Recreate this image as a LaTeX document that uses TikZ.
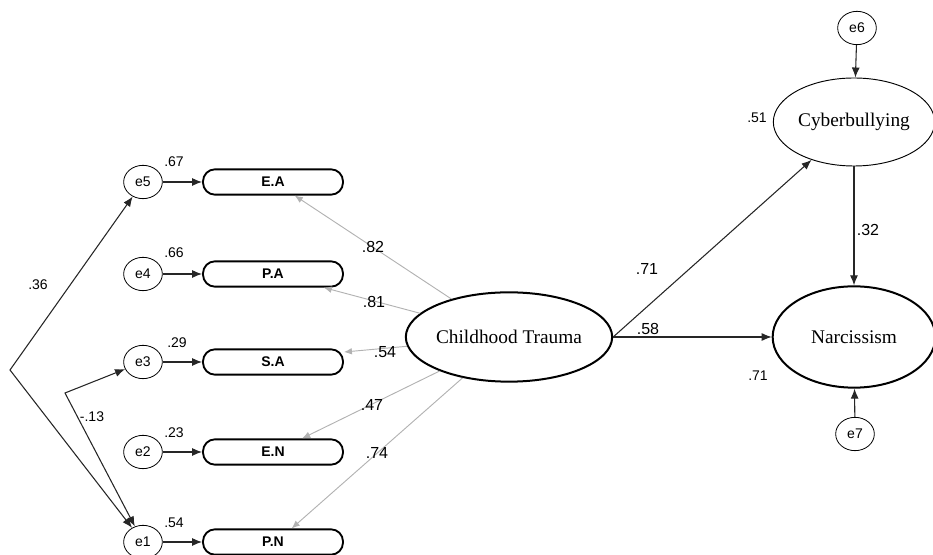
\documentclass[tikz,border=0pt]{standalone}
\usepackage{fontspec}
\setmainfont{Liberation Serif}
\setsansfont{Liberation Sans}
\usetikzlibrary{arrows.meta, shapes.geometric}
\tikzset{
    err/.style={draw, ellipse, line width=0.6pt, minimum width=29pt, minimum height=25pt, inner sep=0pt, font=\sffamily\fontsize{10.5}{11}\selectfont},
    ind/.style={draw, rectangle, rounded corners=9pt, line width=1.4pt, minimum width=105pt, minimum height=19pt, inner sep=0pt, font=\sffamily\bfseries\fontsize{10.5}{11}\selectfont},
    latent/.style={draw, ellipse, inner sep=0pt, font=\fontsize{14.5}{15}\selectfont},
    path/.style={-{Latex[length=7.5pt, width=6pt]}, line width=0.8pt, black!85},
    load/.style={-{Latex[length=6pt, width=5pt]}, line width=0.7pt, black!30},
    cov/.style={{Latex[length=7.5pt, width=6pt]}-{Latex[length=7.5pt, width=6pt]}, line width=0.8pt, black!85},
    lab/.style={font=\sffamily\fontsize{10.5}{11}\selectfont},
    biglab/.style={font=\sffamily\fontsize{12}{13}\selectfont}
}
\begin{document}
\begin{tikzpicture}[x=0.75pt, y=-0.75pt]
          \useasboundingbox (0,0) rectangle (933,555);
          % indicators and their errors
          \node [err] (e5) at (143,182) {e5};
          \node [err] (e4) at (143,274) {e4};
          \node [err] (e3) at (143,362) {e3};
          \node [err] (e2) at (143,452) {e2};
          \node [err] (e1) at (143,542) {e1};
          \node [ind] (ea) at (273,182) {E.A};
          \node [ind] (pa) at (273,274) {P.A};
          \node [ind] (sa) at (273,362) {S.A};
          \node [ind] (en) at (273,452) {E.N};
          \node [ind] (pn) at (273,542) {P.N};
          \foreach \e/\b in {e5/ea, e4/pa, e3/sa, e2/en, e1/pn}
            \draw [path] (\e) -- (\b);
          \node [lab] at (174,162) {.67};
          \node [lab] at (174,253) {.66};
          \node [lab] at (177,343) {.29};
          \node [lab] at (174,433) {.23};
          \node [lab] at (174,523) {.54};
          % covariances
          \coordinate (c1) at (10,370);
          \coordinate (c2) at (65,393);
          \draw [cov] (e5) -- (c1) -- (e1);
          \draw [cov] (e3) -- (c2) -- (e1);
          \node [lab] at (38,285) {.36};
          \node [lab] at (92,417) {-.13};
          % latent variables
          \node [latent, line width=1.5pt, minimum width=126pt, minimum height=67pt] (ct) at (509,337) {Childhood Trauma};
          \node [latent, line width=0.7pt, minimum width=121pt, minimum height=66pt] (cb) at (854,122) {Cyberbullying};
          \node [latent, line width=1.5pt, minimum width=122pt, minimum height=76pt] (na) at (854,337) {Narcissism};
          \node [err] (e6) at (857,28) {e6};
          \node [err] (e7) at (855,434) {e7};
          % loadings
          \draw [load] (ct) -- (ea.-32);
          \draw [load] (ct) -- (pa.-15);
          \draw [load] (ct) -- (sa.8);
          \draw [load] (ct) -- (en.25);
          \draw [load] (ct) -- (pn.36);
          \node [biglab] at (373,247) {.82};
          \node [biglab] at (374,302) {.81};
          \node [biglab] at (385,352) {.54};
          \node [biglab] at (372,405) {.47};
          \node [biglab] at (377,453) {.74};
          % structural paths
          \draw [path] (ct.east) -- (cb);
          \draw [path] (ct.east) -- (na.west);
          \draw [path] (cb) -- (na);
          \draw [path] (e6) -- (cb);
          \draw [path] (e7) -- (na);
          \node [biglab] at (647,269) {.71};
          \node [biglab] at (648,329) {.58};
          \node [biglab] at (868,230) {.32};
          \node [lab] at (757,118) {.51};
          \node [lab] at (758,376) {.71};
        \end{tikzpicture}
\end{document}
